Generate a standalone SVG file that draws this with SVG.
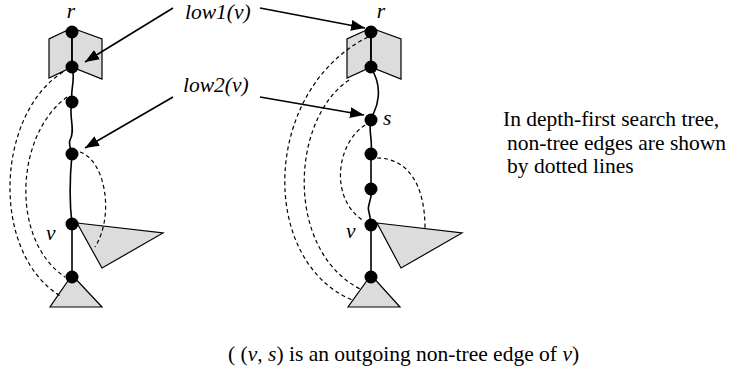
<svg xmlns="http://www.w3.org/2000/svg" width="729" height="376" viewBox="0 0 729 376">
<defs>
<style>
.t{font-family:"Liberation Serif","Times New Roman",serif;font-size:21.5px;fill:#000}
.i{font-style:italic}
.shape{fill:#dcdcdc;stroke:#000;stroke-width:1.2}
.edge{fill:none;stroke:#000;stroke-width:1.6}
.dash{fill:none;stroke:#000;stroke-width:1.2;stroke-dasharray:4 3}
.node{fill:#000}
.arr{fill:none;stroke:#000;stroke-width:1.6}
</style>
<marker id="ah" viewBox="0 0 14 11" refX="14" refY="5.5" markerWidth="14" markerHeight="11" markerUnits="userSpaceOnUse" orient="auto">
<path d="M0,0 L14,5.5 L0,11 z" fill="#000"/>
</marker>
</defs>
<rect width="729" height="376" fill="#fff"/>

<g id="tree-left">
<polygon class="shape" points="72,28 49,39 49,78 72,67"/>
<polygon class="shape" points="72,28 102,39 102,79 72,67"/>
<polygon class="shape" points="77,223 163,233 102,268"/>
<polygon class="shape" points="72,275 50,307 102,307"/>
<path class="edge" d="M72,32 L72,67 C76,78 70,90 72,102 C68,115 76,130 70,140 C68,146 72,150 72,154 C70,175 69,200 72,224 L72,277"/>
<circle class="node" cx="72" cy="32" r="6.5"/>
<circle class="node" cx="72" cy="67" r="6.5"/>
<circle class="node" cx="72" cy="102" r="6.5"/>
<circle class="node" cx="72" cy="154" r="6.5"/>
<circle class="node" cx="72" cy="224" r="6.5"/>
<circle class="node" cx="72" cy="277" r="6.5"/>
<text class="t i" x="71" y="18" text-anchor="middle">r</text>
<text class="t i" x="46" y="240">v</text>
</g>

<g id="tree-right">
<polygon class="shape" points="371,28 347,39 347,78 371,67"/>
<polygon class="shape" points="371,28 401,39 401,79 371,67"/>
<polygon class="shape" points="377,223 462,233 401,268"/>
<polygon class="shape" points="371,275 348,307 400,307"/>
<path class="edge" d="M371,32 L371,67 C375,75 380,85 378,98 C377,110 373,112 371,120 C368,130 373,140 371,154 L371,189 C373,200 366,205 369,212 C370,218 371,220 371,225 L371,277"/>
<circle class="node" cx="371" cy="32" r="6.5"/>
<circle class="node" cx="371" cy="67" r="6.5"/>
<circle class="node" cx="371" cy="120" r="6.5"/>
<circle class="node" cx="371" cy="154" r="6.5"/>
<circle class="node" cx="371" cy="189" r="6.5"/>
<circle class="node" cx="371" cy="225" r="6.5"/>
<circle class="node" cx="371" cy="277" r="6.5"/>
<text class="t i" x="381" y="18" text-anchor="middle">r</text>
<text class="t i" x="383" y="125">s</text>
<text class="t i" x="346" y="238">v</text>
</g>

<g id="connectors">
<path class="dash" d="M63,72 C-5,115 -10,255 62,297"/>
<path class="dash" d="M67,97 C15,135 10,240 65,277"/>
<path class="dash" d="M80,152 C105,160 115,215 95,247"/>
<path class="dash" d="M368,37 C262,90 258,260 352,300"/>
<path class="dash" d="M349,80 C290,120 285,250 360,289"/>
<path class="dash" d="M365,125 C335,145 330,200 364,221"/>
<path class="dash" d="M377,158 C408,158 425,185 425,228"/>
<line class="arr" x1="173" y1="8" x2="85" y2="62" marker-end="url(#ah)"/>
<line class="arr" x1="260" y1="8" x2="365" y2="28" marker-end="url(#ah)"/>
<line class="arr" x1="173" y1="97" x2="85" y2="148" marker-end="url(#ah)"/>
<line class="arr" x1="260" y1="97" x2="364" y2="115" marker-end="url(#ah)"/>
</g>

<g id="labels">
<text class="t i" x="185" y="19">low1(v)</text>
<text class="t i" x="183" y="92">low2(v)</text>
<text class="t" x="503" y="126">In depth-first search tree,</text>
<text class="t" x="507" y="150">non-tree edges are shown</text>
<text class="t" x="507" y="173">by dotted lines</text>
<text class="t" x="228" y="361">( (<tspan class="i">v</tspan>, <tspan class="i">s</tspan>) is an outgoing non-tree edge of <tspan class="i">v</tspan>)</text>
</g>
</svg>
